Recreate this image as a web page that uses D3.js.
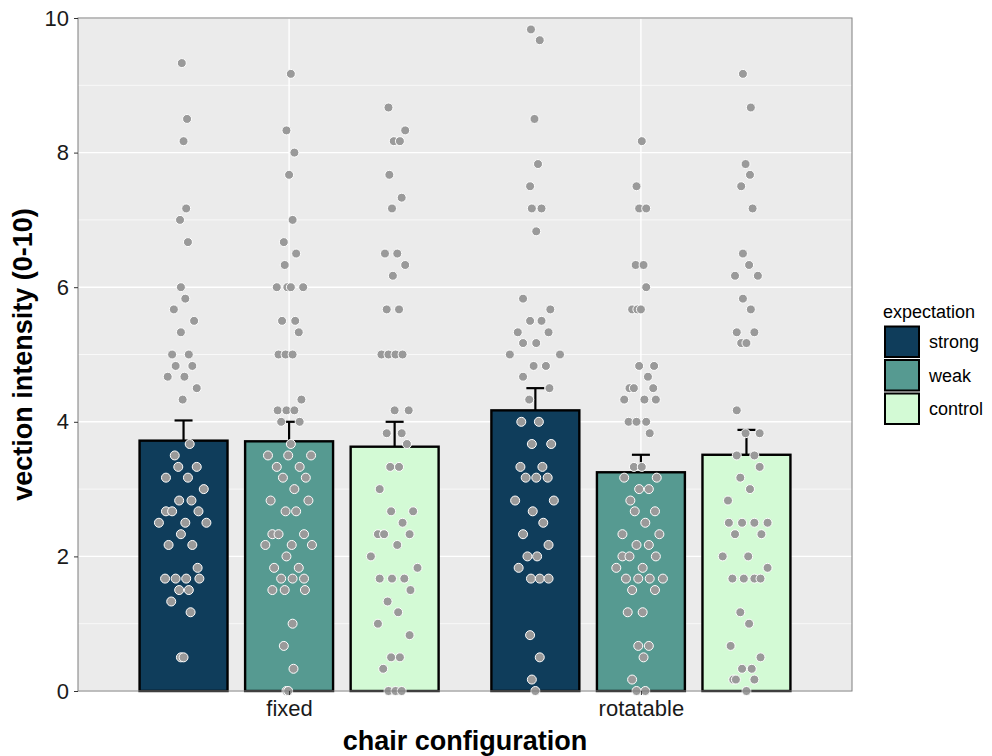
<!DOCTYPE html>
<html>
<head>
<meta charset="utf-8">
<script src="https://cdn.jsdelivr.net/npm/d3@7"></script>
<style>
  html, body { margin: 0; padding: 0; background: #ffffff; }
  svg { display: block; font-family: "Liberation Sans", Arial, sans-serif; }
</style>
</head>
<body>
<svg id="chart" width="992" height="756"></svg>
<script>
// Chair configurations (x groups) and expectation levels (fill)
const configurations = ["fixed", "rotatable"];
const expectations = ["strong", "weak", "control"];
const fillColors = ["#0f3d5b", "#569a91", "#d3fad5"];

// Group means and standard errors
const meansFixed = [3.72, 3.71, 3.63];
const meansRotatable = [4.17, 3.25, 3.51];
const seFixed = [0.30, 0.29, 0.37];
const seRotatable = [0.33, 0.26, 0.37];

const yTicks = [0, 2, 4, 6, 8, 10];

// Individual ratings: [value, horizontal jitter as a fraction of bar width]
const fixedStrong = [
  [9.33,-0.02],[8.5,0.04],[8.17,0],[7.17,0.03],[7.0,-0.04],[6.67,0.05],[6.0,-0.03],[5.83,0.02],
  [5.67,-0.11],[5.5,0.12],[5.33,-0.03],[5.0,-0.13],[5.0,0.06],[4.83,-0.09],[4.83,0.10],[4.67,-0.18],
  [4.67,0.01],[4.5,0.15],[4.33,-0.01],[3.67,0.07],[3.5,-0.10],[3.33,-0.06],[3.33,0.15],[3.17,-0.20],
  [3.17,0.05],[3.0,0.23],[2.83,-0.05],[2.83,0.09],[2.67,-0.20],[2.67,-0.13],[2.67,0.17],[2.5,-0.28],
  [2.5,0.02],[2.5,0.26],[2.33,-0.03],[2.17,-0.17],[2.17,0.10],[1.83,0.16],[1.67,-0.21],[1.67,-0.09],
  [1.67,0.03],[1.67,0.18],[1.5,-0.05],[1.5,0.06],[1.33,-0.14],[1.17,0.08],[0.5,-0.03],[0.5,0.0]
];
const fixedWeak = [
  [9.17,0.02],[8.33,-0.03],[8.0,0.06],[7.67,0],[7.0,0.04],[6.67,-0.06],[6.5,0.08],[6.33,-0.05],
  [6.0,-0.14],[6.0,-0.02],[6.0,0.02],[6.0,0.16],[5.5,-0.08],[5.5,0.07],[5.33,0.11],[5.0,-0.12],
  [5.0,-0.04],[5.0,0.04],[4.33,0.14],[4.17,-0.13],[4.17,-0.03],[4.17,0.06],[4.0,-0.09],[4.0,0.12],
  [3.67,0.02],[3.5,-0.24],[3.5,-0.01],[3.5,0.25],[3.33,-0.14],[3.33,0.12],[3.17,-0.07],[3.17,0.19],
  [3.0,0.06],[2.83,-0.21],[2.83,0.22],[2.67,-0.04],[2.67,0.08],[2.33,-0.19],[2.33,-0.12],[2.33,0.17],
  [2.17,-0.27],[2.17,0.03],[2.17,0.26],[2.0,-0.03],[1.83,-0.17],[1.83,0.11],[1.67,-0.09],[1.67,0.04],
  [1.67,0.17],[1.5,-0.19],[1.5,-0.05],[1.5,0.18],[1.0,0.04],[0.67,-0.06],[0.33,0.05],[0.0,-0.03],
  [0.0,-0.01]
];
const fixedControl = [
  [8.67,-0.07],[8.33,0.12],[8.17,-0.01],[8.17,0.06],[7.67,-0.06],[7.33,0.08],[7.17,-0.03],[6.5,-0.11],
  [6.5,0.03],[6.33,0.12],[6.17,-0.02],[5.67,-0.09],[5.67,0.05],[5.0,-0.15],[5.0,-0.07],[5.0,0.01],
  [5.0,0.09],[4.17,0],[4.17,0.16],[3.83,-0.09],[3.83,0.08],[3.67,0.14],[3.33,-0.05],[3.33,0.05],
  [3.0,-0.17],[2.67,-0.04],[2.67,0.21],[2.5,0.09],[2.33,-0.19],[2.33,-0.12],[2.33,0.17],[2.17,0.03],
  [2.0,-0.27],[1.83,0.26],[1.67,-0.17],[1.67,-0.03],[1.67,0.11],[1.5,0.18],[1.33,-0.08],[1.17,0.04],
  [1.0,-0.19],[0.83,0.17],[0.5,-0.04],[0.5,0.06],[0.33,-0.13],[0.0,-0.07],[0.0,0.01],[0.0,0.08]
];
const rotatableStrong = [
  [9.83,-0.05],[9.67,0.05],[8.5,-0.01],[7.83,0.03],[7.5,-0.06],[7.17,-0.04],[7.17,0.07],[6.83,0.01],
  [5.83,-0.14],[5.67,0.17],[5.5,-0.06],[5.5,0.07],[5.33,-0.20],[5.33,0.15],[5.17,-0.14],[5.17,0.01],
  [5.0,-0.29],[5.0,0.28],[4.83,-0.02],[4.83,0.12],[4.67,-0.14],[4.5,0.16],[4.33,-0.07],[4.0,-0.16],
  [4.0,0.04],[3.67,-0.04],[3.67,0.18],[3.33,-0.17],[3.33,0.08],[3.17,-0.11],[3.17,0.01],[3.17,0.14],
  [2.83,-0.23],[2.83,0.21],[2.67,-0.03],[2.5,0.09],[2.33,-0.14],[2.17,0.15],[2.0,-0.09],[2.0,0.02],
  [1.83,-0.19],[1.67,-0.05],[1.67,0.05],[1.67,0.15],[0.83,-0.06],[0.5,0.05],[0.17,-0.04],[0.0,0]
];
const rotatableWeak = [
  [8.17,0.01],[7.5,-0.05],[7.17,-0.02],[7.17,0.06],[6.33,-0.06],[6.33,0.03],[6.0,0.06],[5.67,-0.10],
  [5.67,-0.04],[5.67,0],[4.83,-0.02],[4.83,0.15],[4.67,0.08],[4.5,-0.13],[4.5,-0.08],[4.5,0.14],
  [4.33,-0.19],[4.33,0.04],[4.33,0.17],[4.0,-0.14],[4.0,-0.05],[4.0,0.06],[3.83,0.10],[3.33,-0.08],
  [3.33,0.01],[3.17,-0.19],[3.17,0.18],[3.0,-0.02],[3.0,0.09],[2.83,-0.12],[2.67,-0.07],[2.67,0.16],
  [2.5,0.05],[2.33,-0.21],[2.33,0.21],[2.17,-0.05],[2.17,0.09],[2.0,-0.21],[2.0,-0.13],[2.0,0.17],
  [1.83,-0.28],[1.83,0.02],[1.67,-0.17],[1.67,-0.03],[1.67,0.10],[1.67,0.25],[1.5,-0.10],[1.5,0.16],
  [1.17,-0.15],[1.17,0.02],[0.67,-0.03],[0.67,0.09],[0.5,0.03],[0.17,-0.10],[0.0,-0.05],[0.0,0.05]
];
const rotatableControl = [
  [9.17,-0.04],[8.67,0.05],[7.83,-0.01],[7.67,0.04],[7.5,-0.06],[7.17,0.07],[6.5,-0.04],[6.33,0.03],
  [6.17,-0.13],[6.17,0.13],[5.83,-0.04],[5.67,0.05],[5.33,-0.11],[5.33,0.09],[5.17,-0.06],[5.17,0],
  [4.17,-0.11],[3.83,-0.01],[3.83,0.15],[3.5,-0.11],[3.5,0.09],[3.33,0.15],[3.17,-0.07],[3.0,0.04],
  [2.83,-0.21],[2.5,-0.20],[2.5,-0.05],[2.5,0.09],[2.5,0.24],[2.33,-0.13],[2.33,0.17],[2.0,-0.27],
  [2.0,0.02],[1.83,0.24],[1.67,-0.16],[1.67,-0.03],[1.67,0.09],[1.67,0.16],[1.17,-0.07],[1.0,0.03],
  [0.67,-0.18],[0.5,0.16],[0.33,-0.05],[0.33,0.06],[0.17,-0.15],[0.17,-0.12],[0.17,0.09],[0.0,0]
];

// Assemble summary rows and point rows
const pointSets = [[fixedStrong, fixedWeak, fixedControl], [rotatableStrong, rotatableWeak, rotatableControl]];
const meanSets = [meansFixed, meansRotatable];
const seSets = [seFixed, seRotatable];

const bars = [];
const points = [];
configurations.forEach((cfg, ci) => {
  expectations.forEach((exp, ei) => {
    bars.push({ cfg: ci + 1, exp: ei, mean: meanSets[ci][ei], se: seSets[ci][ei] });
    pointSets[ci][ei].forEach(([v, j]) => points.push({ cfg: ci + 1, exp: ei, value: v, jitter: j }));
  });
});

const svg = d3.select("#chart");
const panel = { left: 78, right: 852, top: 18, bottom: 691 };

const x = d3.scaleLinear().domain([0.4, 2.6]).range([panel.left, panel.right]);
const y = d3.scaleLinear().domain([0, 10]).range([panel.bottom, panel.top]);

const dodge = d3.scaleOrdinal().domain([0, 1, 2]).range([-0.3, 0, 0.3]);
const barWidth = 0.25;
const fill = d3.scaleOrdinal().domain([0, 1, 2]).range(fillColors);
const barCenter = d => x(d.cfg + dodge(d.exp));
const barPx = x(barWidth) - x(0);

// Panel background and grid
svg.append("rect")
  .attr("x", panel.left).attr("y", panel.top)
  .attr("width", panel.right - panel.left).attr("height", panel.bottom - panel.top)
  .attr("fill", "#ebebeb");

const minor = d3.range(1, 10, 2);
svg.append("g").selectAll("line").data(minor).join("line")
  .attr("x1", panel.left).attr("x2", panel.right)
  .attr("y1", d => y(d)).attr("y2", d => y(d))
  .attr("stroke", "#ffffff").attr("stroke-width", 0.7);
svg.append("g").selectAll("line").data(yTicks).join("line")
  .attr("x1", panel.left).attr("x2", panel.right)
  .attr("y1", d => y(d)).attr("y2", d => y(d))
  .attr("stroke", "#ffffff").attr("stroke-width", 1.4);
svg.append("g").selectAll("line").data([1, 2]).join("line")
  .attr("x1", d => x(d)).attr("x2", d => x(d))
  .attr("y1", panel.top).attr("y2", panel.bottom)
  .attr("stroke", "#ffffff").attr("stroke-width", 1.4);

// Error bars (upper half shows above each bar)
const eb = svg.append("g");
eb.selectAll("line.stem").data(bars).join("line")
  .attr("class", "stem")
  .attr("x1", barCenter).attr("x2", barCenter)
  .attr("y1", d => y(d.mean)).attr("y2", d => y(d.mean + d.se))
  .attr("stroke", "#000").attr("stroke-width", 2.2);
eb.selectAll("line.cap").data(bars).join("line")
  .attr("class", "cap")
  .attr("x1", d => barCenter(d) - 9).attr("x2", d => barCenter(d) + 9)
  .attr("y1", d => y(d.mean + d.se)).attr("y2", d => y(d.mean + d.se))
  .attr("stroke", "#000").attr("stroke-width", 2.2);

// Bars
svg.append("g").selectAll("rect").data(bars).join("rect")
  .attr("x", d => barCenter(d) - barPx / 2)
  .attr("width", barPx)
  .attr("y", d => y(d.mean))
  .attr("height", d => y(0) - y(d.mean))
  .attr("fill", d => fill(d.exp))
  .attr("stroke", "#000").attr("stroke-width", 2.4);

// Individual points
svg.append("g").selectAll("circle").data(points).join("circle")
  .attr("cx", d => barCenter(d) + d.jitter * barPx)
  .attr("cy", d => y(d.value))
  .attr("r", 4.5)
  .attr("fill", "#9a9a9a")
  .attr("stroke", "#ffffff").attr("stroke-width", 1);

// Panel border
svg.append("rect")
  .attr("x", panel.left).attr("y", panel.top)
  .attr("width", panel.right - panel.left).attr("height", panel.bottom - panel.top)
  .attr("fill", "none").attr("stroke", "#7f7f7f").attr("stroke-width", 1);

// Axes
const yAxis = d3.axisLeft(y).tickValues(yTicks).tickSize(4).tickPadding(5);
const gy = svg.append("g").attr("transform", `translate(${panel.left},0)`).call(yAxis);
gy.select(".domain").remove();
gy.selectAll(".tick line").attr("stroke", "#333").attr("stroke-width", 1);
gy.selectAll(".tick text").attr("font-size", 22).attr("fill", "#1a1a1a")
  .attr("font-family", "Liberation Sans, Arial, sans-serif");

const xAxis = d3.axisBottom(x).tickValues([1, 2]).tickFormat(d => configurations[d - 1]).tickSize(4).tickPadding(5);
const gx = svg.append("g").attr("transform", `translate(0,${panel.bottom})`).call(xAxis);
gx.select(".domain").remove();
gx.selectAll(".tick line").attr("stroke", "#333").attr("stroke-width", 1);
gx.selectAll(".tick text").attr("font-size", 22).attr("fill", "#1a1a1a")
  .attr("font-family", "Liberation Sans, Arial, sans-serif");

// Axis titles
svg.append("text")
  .attr("x", (panel.left + panel.right) / 2).attr("y", 750)
  .attr("text-anchor", "middle").attr("font-size", 27).attr("font-weight", "bold")
  .attr("fill", "#000").text("chair configuration");
svg.append("text")
  .attr("transform", `translate(32,${(panel.top + panel.bottom) / 2}) rotate(-90)`)
  .attr("text-anchor", "middle").attr("font-size", 27).attr("font-weight", "bold")
  .attr("fill", "#000").text("vection intensity (0-10)");

// Legend
const legend = svg.append("g").attr("transform", "translate(883,0)");
legend.append("text").attr("x", 0).attr("y", 318)
  .attr("font-size", 18).attr("fill", "#000").text("expectation");
const keyH = 33.5;
const keys = legend.selectAll("g.key").data(expectations).join("g")
  .attr("class", "key")
  .attr("transform", (d, i) => `translate(0,${325 + i * keyH})`);
keys.append("rect")
  .attr("x", 2).attr("y", 1.5).attr("width", 34).attr("height", keyH - 3)
  .attr("fill", (d, i) => fill(i)).attr("stroke", "#000").attr("stroke-width", 2);
keys.append("text")
  .attr("x", 46).attr("y", keyH / 2 + 6.5)
  .attr("font-size", 18).attr("fill", "#000").text(d => d);
</script>
</body>
</html>
